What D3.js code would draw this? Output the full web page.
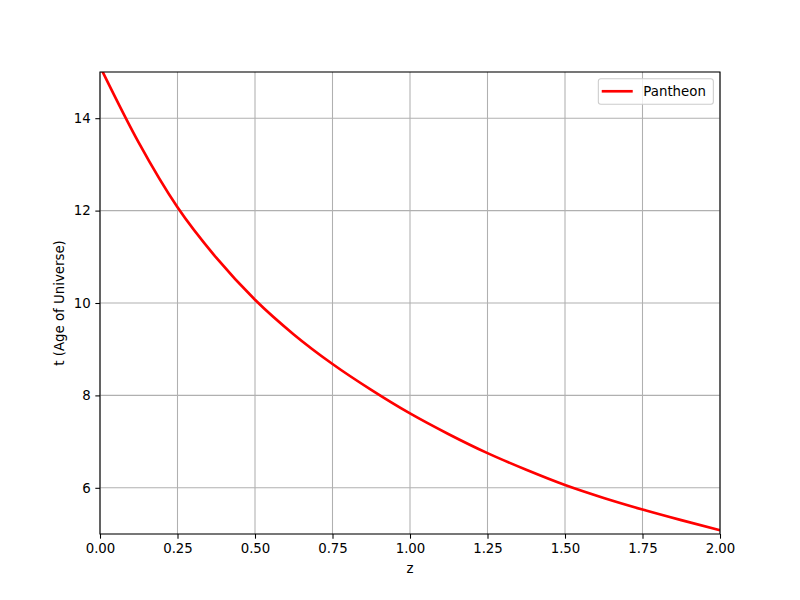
<!DOCTYPE html>
<html lang="en">
<head>
<meta charset="UTF-8">
<script src="https://d3js.org/d3.v7.min.js"></script>
<title>Age of Universe</title>
<style>
  body { margin: 0; background: #fff; }
  text { font-family: "DejaVu Sans", sans-serif; fill: #000; }
  .tick text { font-size: 13.33px; }
  .tick line { stroke: #000; stroke-width: 1.07; }
  .grid line { stroke: #b0b0b0; stroke-width: 1.07; }
</style>
</head>
<body>
<div id="chart"></div>
<script>
// Data
const redshift = [0, 0.125, 0.25, 0.375, 0.5, 0.625, 0.75, 0.875, 1.0, 1.125, 1.25, 1.375, 1.5, 1.625, 1.75, 1.875, 2.0];
const age = [15.12, 13.47, 12.07, 10.98, 10.07, 9.32, 8.68, 8.12, 7.61, 7.16, 6.75, 6.39, 6.06, 5.78, 5.53, 5.30, 5.08];
const seriesName = "Pantheon";
const xTicks = [0, 0.25, 0.5, 0.75, 1.0, 1.25, 1.5, 1.75, 2.0];
const yTicks = [6, 8, 10, 12, 14];

const data = redshift.map((z, i) => ({ z: z, t: age[i] }));

// Dimensions (matplotlib default subplot box)
const width = 800, height = 600;
const margin = { top: 72, right: 80, bottom: 66, left: 100 };
const innerW = width - margin.left - margin.right;
const innerH = height - margin.top - margin.bottom;

const svg = d3.select("#chart").append("svg")
    .attr("width", width)
    .attr("height", height);

svg.append("rect").attr("width", width).attr("height", height).attr("fill", "#fff");

const g = svg.append("g").attr("transform", `translate(${margin.left},${margin.top})`);

// Scales
const x = d3.scaleLinear().domain([0, 2]).range([0, innerW]);
const y = d3.scaleLinear().domain([5, 15]).range([innerH, 0]);

// Grid
g.append("g").attr("class", "grid")
    .selectAll("line.v").data(xTicks).join("line")
    .attr("x1", d => x(d)).attr("x2", d => x(d))
    .attr("y1", 0).attr("y2", innerH);
g.append("g").attr("class", "grid")
    .selectAll("line.h").data(yTicks).join("line")
    .attr("x1", 0).attr("x2", innerW)
    .attr("y1", d => y(d)).attr("y2", d => y(d));

// Line, clipped to the axes
g.append("clipPath").attr("id", "clip")
    .append("rect").attr("width", innerW).attr("height", innerH);

const line = d3.line()
    .x(d => x(d.z))
    .y(d => y(d.t))
    .curve(d3.curveMonotoneX);

g.append("path")
    .datum(data)
    .attr("clip-path", "url(#clip)")
    .attr("fill", "none")
    .attr("stroke", "red")
    .attr("stroke-width", 2.67)
    .attr("d", line);

// Axes
const xAxis = g.append("g")
    .attr("transform", `translate(0,${innerH})`)
    .call(d3.axisBottom(x).tickValues(xTicks).tickFormat(d3.format(".2f"))
        .tickSize(4.67).tickPadding(4.67).tickSizeOuter(0));
const yAxis = g.append("g")
    .call(d3.axisLeft(y).tickValues(yTicks).tickFormat(d3.format("d"))
        .tickSize(4.67).tickPadding(4.67).tickSizeOuter(0));
xAxis.select(".domain").remove();
yAxis.select(".domain").remove();
xAxis.selectAll("text").attr("font-family", null);
yAxis.selectAll("text").attr("font-family", null);
g.selectAll(".tick text").attr("font-size", null);

// Spines
g.append("rect")
    .attr("width", innerW).attr("height", innerH)
    .attr("fill", "none").attr("stroke", "#000").attr("stroke-width", 1.07);

// Axis labels
svg.append("text")
    .attr("x", margin.left + innerW / 2)
    .attr("y", 573)
    .attr("text-anchor", "middle")
    .style("font-size", "13.33px")
    .text("z");

svg.append("text")
    .attr("transform", `translate(59.5,${margin.top + innerH / 2}) rotate(-90)`)
    .attr("text-anchor", "middle")
    .attr("dominant-baseline", "central")
    .style("font-size", "13.33px")
    .text("t (Age of Universe)");

// Legend
const legend = g.append("g").attr("transform", `translate(${innerW - 6.67},6.67)`);
legend.append("rect")
    .attr("x", -115).attr("y", 0)
    .attr("width", 115).attr("height", 25.5)
    .attr("rx", 2.5)
    .attr("fill", "#fff").attr("fill-opacity", 0.8)
    .attr("stroke", "#cccccc").attr("stroke-width", 1.07);
legend.append("line")
    .attr("x1", -111.6).attr("x2", -80.6)
    .attr("y1", 12.6).attr("y2", 12.6)
    .attr("stroke", "red").attr("stroke-width", 2.67);
legend.append("text")
    .attr("x", -70)
    .attr("y", 12.6)
    .attr("dy", "0.35em")
    .style("font-size", "13.33px")
    .text(seriesName);
</script>
</body>
</html>
